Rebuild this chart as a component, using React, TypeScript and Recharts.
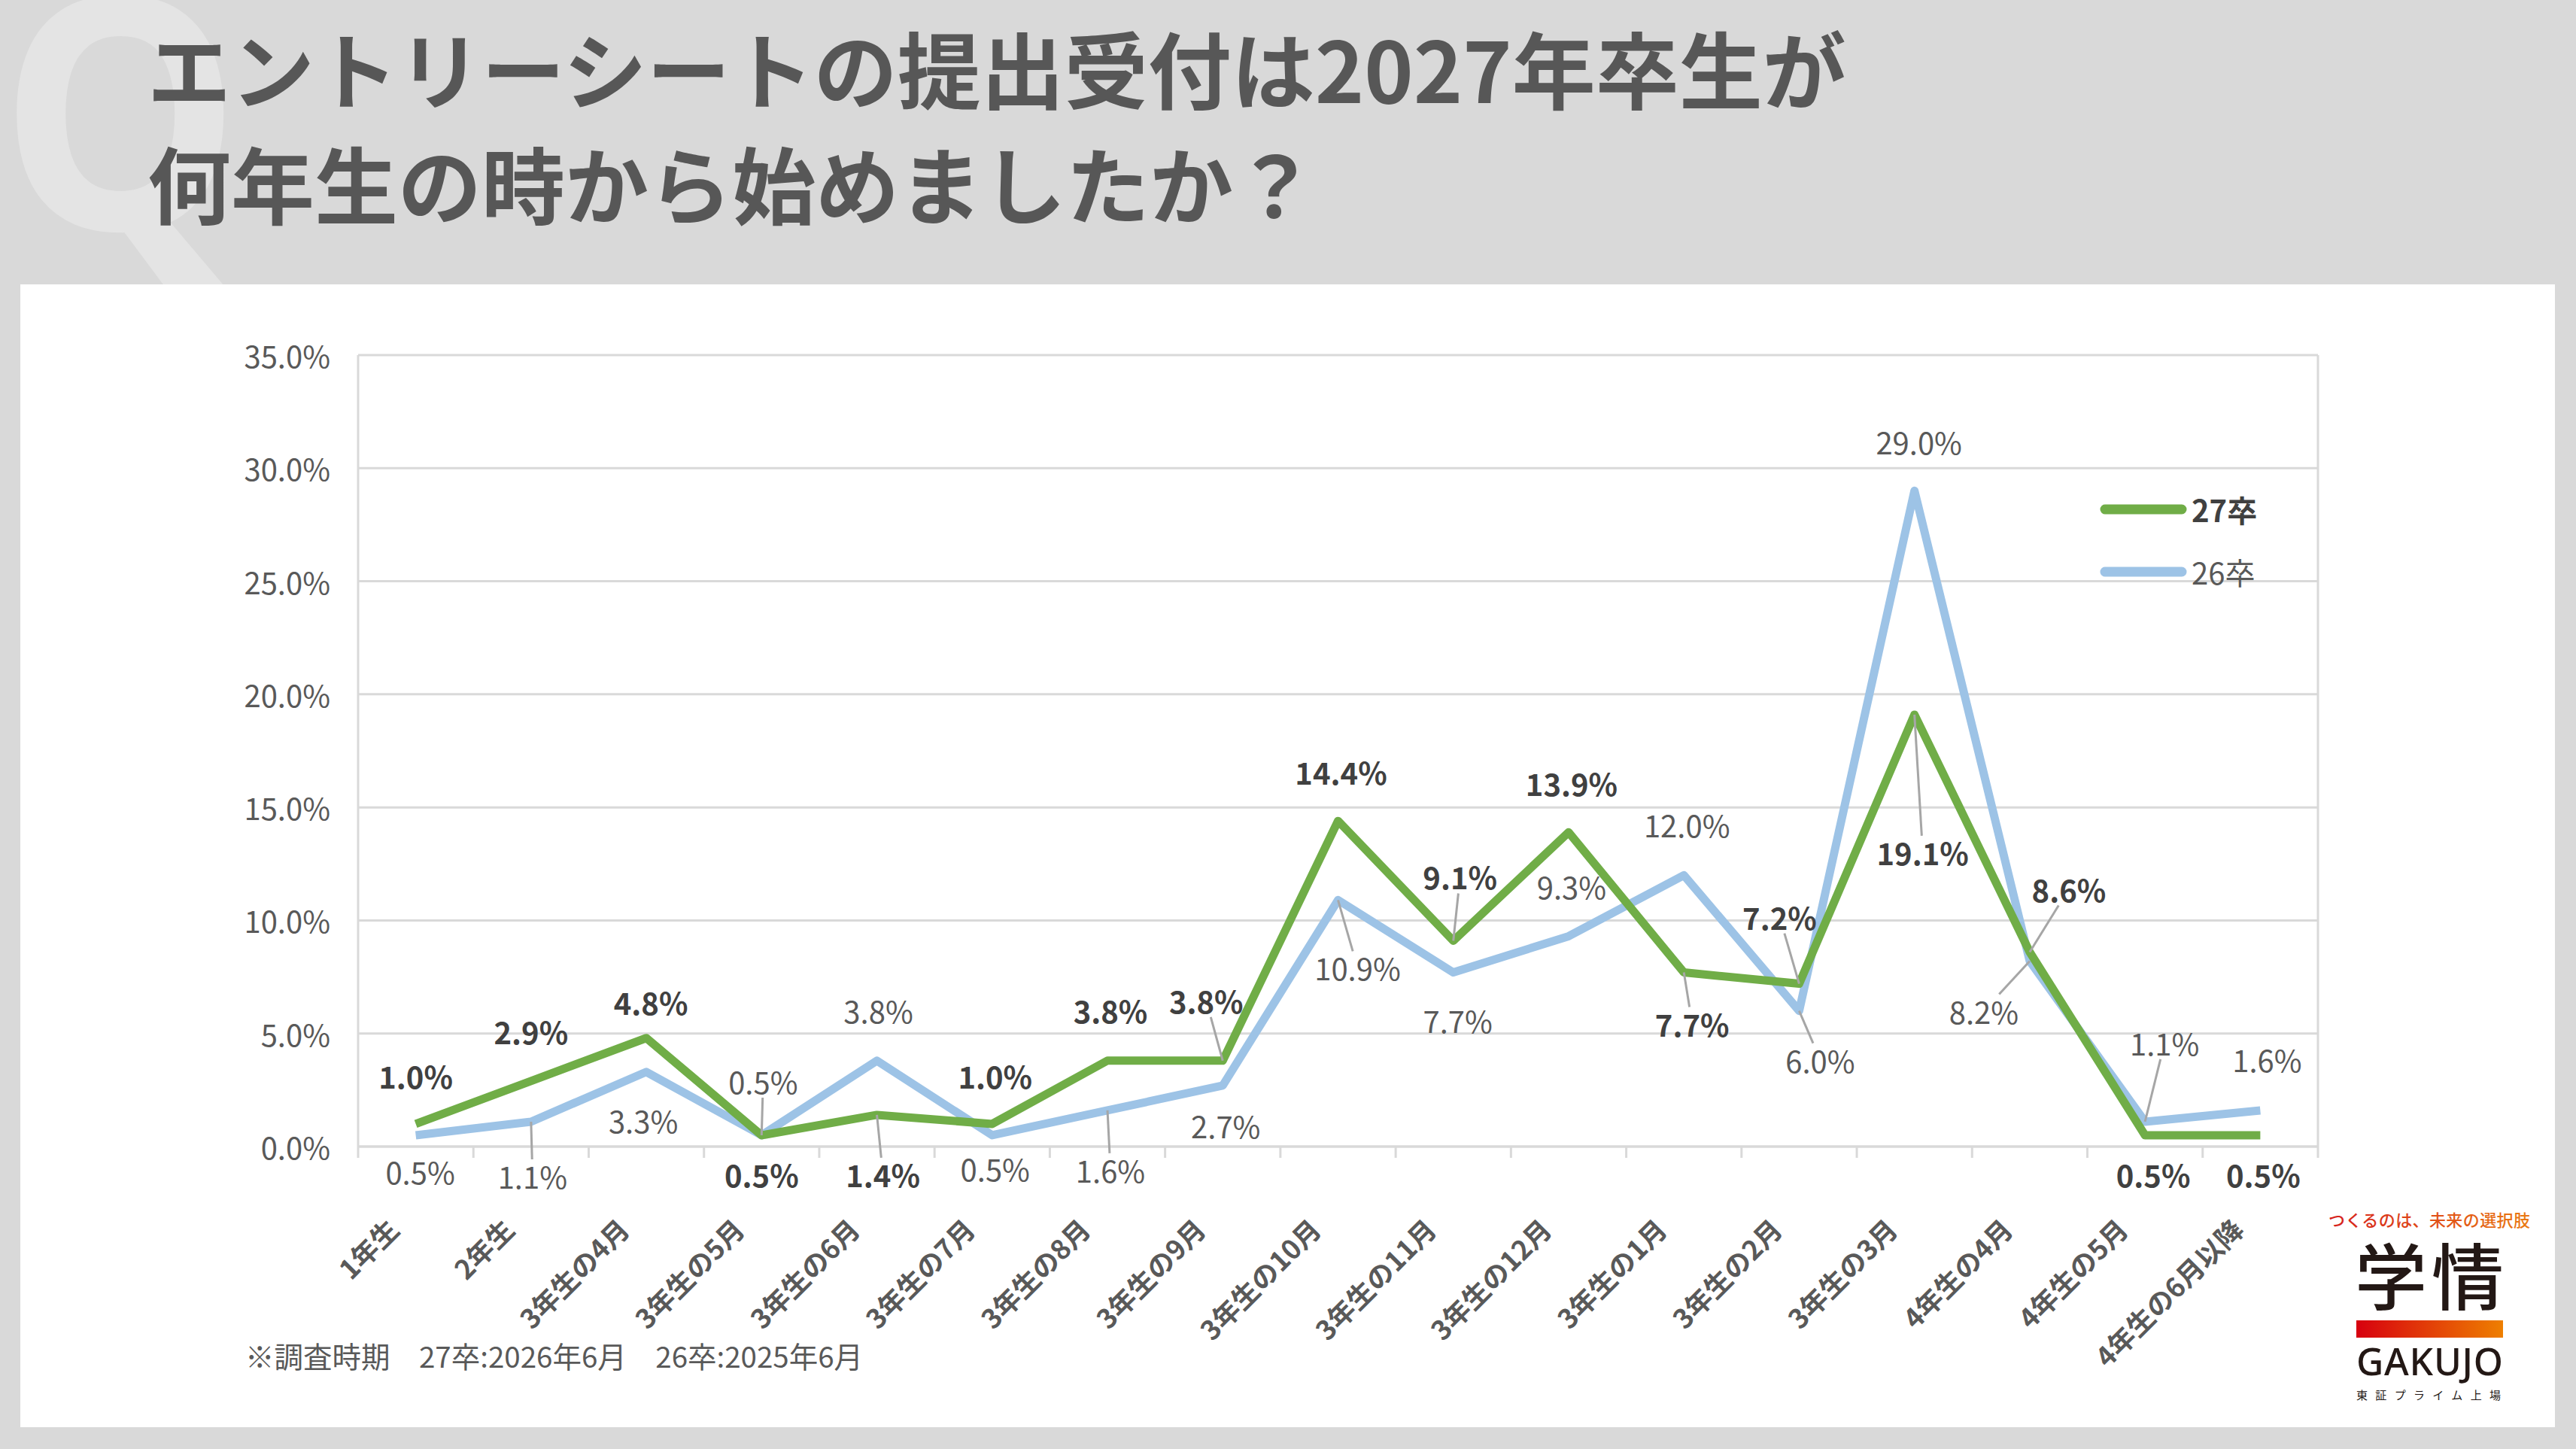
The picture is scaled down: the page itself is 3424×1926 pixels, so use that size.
import React from 'react';
import { LineChart, Line, XAxis, YAxis, CartesianGrid, ReferenceLine, Legend } from 'recharts';

const FONT = "'Noto Sans CJK JP', 'Noto Sans', sans-serif";

const CATEGORIES = [
  '1年生', '2年生', '3年生の4月', '3年生の5月', '3年生の6月', '3年生の7月', '3年生の8月',
  '3年生の9月', '3年生の10月', '3年生の11月', '3年生の12月', '3年生の1月', '3年生の2月',
  '3年生の3月', '4年生の4月', '4年生の5月', '4年生の6月以降',
];
const SERIES_27 = [1.0, 2.9, 4.8, 0.5, 1.4, 1.0, 3.8, 3.8, 14.4, 9.1, 13.9, 7.7, 7.2, 19.1, 8.6, 0.5, 0.5];
const SERIES_26 = [0.5, 1.1, 3.3, 0.5, 3.8, 0.5, 1.6, 2.7, 10.9, 7.7, 9.3, 12.0, 6.0, 29.0, 8.2, 1.1, 1.6];
const Y_TICKS = [0, 5, 10, 15, 20, 25, 30, 35];
const SERIES_NAMES = ['27卒', '26卒'];

// label placement relative to the point: [dx, dy, leader line]
const LABEL_POS_27 = [
  [0, -64, 0], [0, -66, 0], [6, -48, 0], [0, 52, 0], [8, 79, 1], [4, -64, 0], [4, -67, 0],
  [-22, -80, 1], [4, -65, 0], [9, -85, 1], [4, -65, 0], [11, 68, 1], [-26, -89, 1],
  [11, 183, 1], [52, -84, 1], [11, 52, 0], [4, 52, 0],
];
const LABEL_POS_26 = [
  [6, 48, 0], [2, 72, 1], [-4, 64, 0], [2, -72, 1], [2, -67, 0], [4, 44, 0], [4, 79, 1],
  [4, 53, 0], [26, 90, 1], [6, 63, 0], [4, -66, 0], [4, -67, 0], [28, 65, 1], [6, -65, 0],
  [-61, 66, 1], [26, -105, 1], [9, -68, 0],
];

const GREEN = '#70ad47';
const BLUE = '#9dc3e6';
const GRID = '#d9d9d9';

const data = CATEGORIES.map((name, i) => ({
  x: i + 0.5,
  name,
  s27: SERIES_27[i],
  s26: SERIES_26[i],
}));

const BOUNDS = CATEGORIES.map((_, i) => i).concat([CATEGORIES.length]);
const CENTERS = CATEGORIES.map((_, i) => i + 0.5);

const makeLabel = (pos: number[][], bold: boolean, color: string) => (props: any) => {
  const { x, y, value, index } = props;
  if (x == null || y == null || index == null) return null;
  const [dx, dy, leader] = pos[index];
  const cx = x + dx;
  const cy = y + dy;
  let line = null;
  if (leader) {
    const hw = 54;
    const hh = 22;
    const vx = x - cx;
    const vy = y - cy;
    const t = Math.min(
      vx !== 0 ? hw / Math.abs(vx) : Infinity,
      vy !== 0 ? hh / Math.abs(vy) : Infinity,
    );
    line = (
      <line x1={cx + vx * t} y1={cy + vy * t} x2={x} y2={y} stroke="#a6a6a6" strokeWidth={3} />
    );
  }
  return (
    <g key={`lbl-${index}`}>
      {line}
      <text
        x={cx}
        y={cy}
        textAnchor="middle"
        dominantBaseline="central"
        fontFamily={FONT}
        fontSize={40}
        fontWeight={bold ? 700 : 400}
        fill={color}
      >
        {`${Number(value).toFixed(1)}%`}
      </text>
    </g>
  );
};

const YTick = (props: any) => {
  const { x, y, payload } = props;
  return (
    <text x={x - 37} y={y} textAnchor="end" dominantBaseline="central" fontFamily={FONT} fontSize={40} fill="#595959">
      {`${Number(payload.value).toFixed(1)}%`}
    </text>
  );
};

const CatTick = (props: any) => {
  const { x, y, payload } = props;
  const name = CATEGORIES[Math.floor(payload.value)];
  return (
    <text
      transform={`translate(${x - 20}, ${y + 112}) rotate(-45)`}
      textAnchor="end"
      fontFamily={FONT}
      fontSize={36}
      fontWeight={700}
      fill="#595959"
    >
      {name}
    </text>
  );
};

const NoTick = () => <g />;

const LegendBox = (props: any) => {
  const items = SERIES_NAMES.map((n) =>
    (props.payload || []).find((it: any) => it.value === n),
  ).filter(Boolean);
  return (
    <svg width={260} height={170}>
      {items.map((it: any, i: number) => (
        <g key={it.value} transform={`translate(0, ${37 + i * 83})`}>
          <line x1={8} x2={110} y1={0} y2={0} stroke={it.color} strokeWidth={13} strokeLinecap="round" />
          <text
            x={123}
            y={0}
            dominantBaseline="central"
            fontFamily={FONT}
            fontSize={40}
            fontWeight={i === 0 ? 700 : 400}
            fill={i === 0 ? '#404040' : '#595959'}
          >
            {it.value}
          </text>
        </g>
      ))}
    </svg>
  );
};

export default function App() {
  return (
    <div
      style={{
        position: 'absolute',
        left: 0,
        top: 0,
        width: 3424,
        height: 1926,
        background: '#d9d9d9',
        overflow: 'hidden',
      }}
    >
      {/* Q watermark + title */}
      <svg style={{ position: 'absolute', left: 0, top: 0 }} width={3424} height={400}>
        <text
          x={0}
          y={305}
          transform="scale(0.94,1)"
          fontFamily="'Noto Sans', sans-serif"
          fontSize={430}
          fontWeight={700}
          fill="#e4e4e4"
        >
          Q
        </text>
        <text x={196} y={137} fontFamily={FONT} fontSize={111} fontWeight={700} fill="#575757">
          エントリーシートの提出受付は2027年卒生が
        </text>
        <text x={196} y={290} fontFamily={FONT} fontSize={111} fontWeight={700} fill="#575757">
          何年生の時から始めましたか？
        </text>
      </svg>

      {/* white panel */}
      <div style={{ position: 'absolute', left: 27, top: 378, width: 3369, height: 1519, background: '#fff' }} />

      <div style={{ position: 'absolute', left: 0, top: 0 }}>
        <LineChart
          width={3424}
          height={1926}
          data={data}
          margin={{ top: 472, right: 343, bottom: 400, left: 376 }}
        >
          <CartesianGrid horizontal vertical={false} stroke={GRID} strokeWidth={3} />
          <XAxis
            xAxisId="b"
            type="number"
            dataKey="x"
            domain={[0, CATEGORIES.length]}
            ticks={BOUNDS}
            interval={0}
            height={1}
            axisLine={{ stroke: GRID, strokeWidth: 3 }}
            tickLine={{ stroke: GRID, strokeWidth: 3 }}
            tickSize={15}
            tick={NoTick}
          />
          <XAxis
            xAxisId="cat"
            type="number"
            dataKey="x"
            domain={[0, CATEGORIES.length]}
            ticks={CENTERS}
            interval={0}
            height={1}
            axisLine={false}
            tickLine={false}
            tickSize={0}
            tickMargin={0}
            tick={CatTick}
          />
          <YAxis
            domain={[0, 35]}
            ticks={Y_TICKS}
            interval={0}
            width={100}
            axisLine={{ stroke: GRID, strokeWidth: 3 }}
            tickLine={false}
            tickSize={0}
            tickMargin={0}
            tick={YTick}
          />
          <ReferenceLine xAxisId="b" x={CATEGORIES.length} stroke={GRID} strokeWidth={3} />
          <Legend
            layout="vertical"
            align="center"
            verticalAlign="middle"
            wrapperStyle={{ position: 'absolute', left: 2790, top: 640, width: 260 }}
            content={LegendBox}
          />
          <Line
            xAxisId="b"
            dataKey="s26"
            name="26卒"
            stroke={BLUE}
            strokeWidth={11}
            strokeLinejoin="round"
            dot={false}
            activeDot={false}
            isAnimationActive={false}
          />
          <Line
            xAxisId="b"
            dataKey="s27"
            name="27卒"
            stroke={GREEN}
            strokeWidth={11}
            strokeLinejoin="round"
            dot={false}
            activeDot={false}
            isAnimationActive={false}
          />
          <Line
            xAxisId="cat"
            dataKey="s26"
            name="label26"
            stroke="none"
            legendType="none"
            dot={false}
            activeDot={false}
            isAnimationActive={false}
            label={makeLabel(LABEL_POS_26, false, '#595959')}
          />
          <Line
            xAxisId="cat"
            dataKey="s27"
            name="label27"
            stroke="none"
            legendType="none"
            dot={false}
            activeDot={false}
            isAnimationActive={false}
            label={makeLabel(LABEL_POS_27, true, '#404040')}
          />
        </LineChart>
      </div>

      {/* footnote + logo */}
      <svg style={{ position: 'absolute', left: 0, top: 1560 }} width={3424} height={366}>
        <defs>
          <linearGradient id="logoGrad" x1="0" x2="1" y1="0" y2="0">
            <stop offset="0%" stopColor="#d7000f" />
            <stop offset="100%" stopColor="#ee7f00" />
          </linearGradient>
          <linearGradient id="copyGrad" x1="0" x2="1" y1="0" y2="0">
            <stop offset="0%" stopColor="#d6201c" />
            <stop offset="100%" stopColor="#ea7a12" />
          </linearGradient>
        </defs>
        <text x={326} y={258} fontFamily={FONT} fontSize={38.5} fill="#595959">
          ※調査時期　27卒:2026年6月　26卒:2025年6月
        </text>
        <text x={3095} y={70} fontFamily={FONT} fontSize={22} fontWeight={500} fill="url(#copyGrad)" textLength={268}>
          つくるのは、未来の選択肢
        </text>
        <text x={3130} y={173} fontFamily={FONT} fontSize={96} fontWeight={500} fill="#231815" textLength={198}>
          学情
        </text>
        <rect x={3132} y={195} width={195} height={23} fill="url(#logoGrad)" />
        <text x={3132} y={268} fontFamily="'Noto Sans', sans-serif" fontSize={50} fontWeight={500} fill="#231815" textLength={195}>
          GAKUJO
        </text>
        <text x={3132} y={300} fontFamily={FONT} fontSize={15} fill="#231815" textLength={192}>
          東証プライム上場
        </text>
      </svg>
    </div>
  );
}
